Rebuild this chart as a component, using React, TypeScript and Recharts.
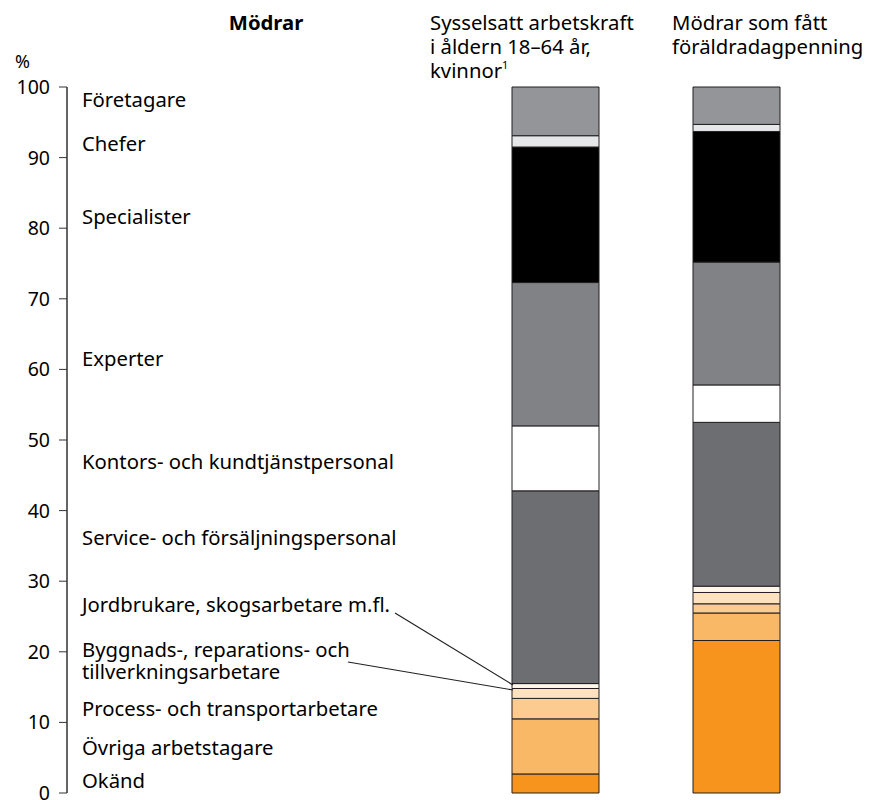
import React from "react"
import { BarChart, Bar, XAxis, YAxis } from "recharts"

const FONT = "'Noto Sans', sans-serif"

// stacked from the bottom up
const segments = [
  "Okänd",
  "Övriga arbetstagare",
  "Process- och transportarbetare",
  "Byggnads-, reparations- och tillverkningsarbetare",
  "Jordbrukare, skogsarbetare m.fl.",
  "Service- och försäljningspersonal",
  "Kontors- och kundtjänstpersonal",
  "Experter",
  "Specialister",
  "Chefer",
  "Företagare",
]
const segmentColors = [
  "#f7941d",
  "#f9b865",
  "#fccb8f",
  "#fee1bf",
  "#fff6ea",
  "#6d6e71",
  "#ffffff",
  "#808285",
  "#000000",
  "#e6e7e8",
  "#939598",
]

const groups = ["Sysselsatt arbetskraft", "Mödrar som fått föräldradagpenning"]
const sysselsatt = [2.7, 7.8, 2.9, 1.4, 0.7, 27.3, 9.2, 20.3, 19.2, 1.6, 6.9]
const modrar = [21.6, 3.9, 1.3, 1.6, 0.9, 23.2, 5.3, 17.4, 18.5, 1.0, 5.3]

const yTicks = [0, 10, 20, 30, 40, 50, 60, 70, 80, 90, 100]

// label column on the left, centre y of each text line
const labelRows: { text: string; y: number }[] = [
  { text: "Företagare", y: 99 },
  { text: "Chefer", y: 143 },
  { text: "Specialister", y: 216 },
  { text: "Experter", y: 358 },
  { text: "Kontors- och kundtjänstpersonal", y: 461 },
  { text: "Service- och försäljningspersonal", y: 537 },
  { text: "Jordbrukare, skogsarbetare m.fl.", y: 604 },
  { text: "Byggnads-, reparations- och", y: 649 },
  { text: "tillverkningsarbetare", y: 671 },
  { text: "Process- och transportarbetare", y: 708 },
  { text: "Övriga arbetstagare", y: 747 },
  { text: "Okänd", y: 780 },
]

const rows = groups.map((g, gi) => {
  const vals = gi === 0 ? sysselsatt : modrar
  const row: Record<string, string | number> = { name: g }
  vals.forEach((v, i) => (row["s" + i] = v))
  return row
})

const FS = 20.3

export default function App() {
  return (
    <div style={{ position: "absolute", left: 0, top: 0, width: 869, height: 800, fontFamily: FONT, color: "#000" }}>
      <BarChart
        width={869}
        height={800}
        data={rows}
        margin={{ top: 87, right: 89, bottom: 7, left: 0 }}
        barSize={87}
      >
        <XAxis
          dataKey="name"
          tick={false}
          tickLine={false}
          height={0}
          padding={{ left: 398, right: -47 }}
          axisLine={{ stroke: "#333", strokeWidth: 1.5 }}
        />
        <YAxis
          domain={[0, 100]}
          ticks={yTicks}
          width={67}
          tickSize={8}
          tickMargin={9}
          interval={0}
          axisLine={{ stroke: "#333", strokeWidth: 1.5 }}
          tickLine={{ stroke: "#333" }}
          tick={{ fill: "#000", fontSize: 19.5, fontFamily: FONT }}
        />
        {segments.map((s, i) => (
          <Bar
            key={s}
            dataKey={"s" + i}
            name={s}
            stackId="a"
            fill={segmentColors[i]}
            stroke="#231f20"
            strokeWidth={1}
            isAnimationActive={false}
          />
        ))}
      </BarChart>

      <svg
        width={869}
        height={800}
        style={{ position: "absolute", left: 0, top: 0, pointerEvents: "none" }}
        fontFamily={FONT}
      >
        <text x={15} y={61} fontSize={18} dominantBaseline="central">%</text>
        {labelRows.map((r) => (
          <text key={r.text} x={82} y={r.y} fontSize={FS} dominantBaseline="central">
            {r.text}
          </text>
        ))}
        <line x1={395} y1={613} x2={513} y2={685} stroke="#231f20" strokeWidth={1.2} />
        <line x1={348} y1={662} x2={513} y2={690} stroke="#231f20" strokeWidth={1.2} />

        <text x={266} y={22} fontSize={FS} fontWeight="bold" textAnchor="middle" dominantBaseline="central">
          Mödrar
        </text>
        <text x={430} y={22} fontSize={FS} dominantBaseline="central">Sysselsatt arbetskraft</text>
        <text x={430} y={46} fontSize={FS} dominantBaseline="central">i åldern 18–64 år,</text>
        <text x={430} y={70} fontSize={FS} dominantBaseline="central">
          kvinnor<tspan fontSize={11} dy={-6}>1</tspan>
        </text>
        <text x={672} y={22} fontSize={FS} dominantBaseline="central">Mödrar som fått</text>
        <text x={672} y={46} fontSize={FS} dominantBaseline="central">föräldradagpenning</text>
      </svg>
    </div>
  )
}
